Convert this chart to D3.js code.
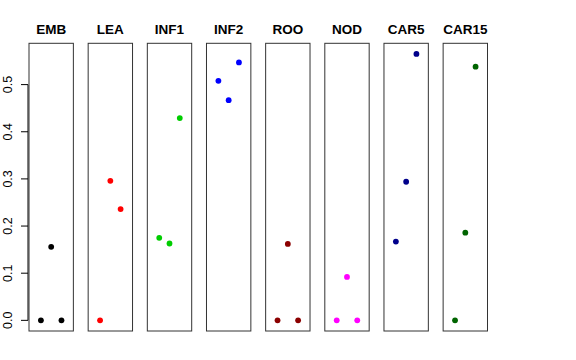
<!DOCTYPE html>
<html>
<head>
<meta charset="utf-8">
<script src="https://cdn.jsdelivr.net/npm/d3@7"></script>
<style>
  body { margin: 0; background: white; }
  svg text { font-family: "Liberation Sans", Arial, sans-serif; }
</style>
</head>
<body>
<div id="chart"></div>
<script>
// stages and the three values per stage
let stages = ["EMB", "LEA", "INF1", "INF2", "ROO", "NOD", "CAR5", "CAR15"];
let stageColors = ["black", "red", "#00cd00", "blue", "#8b0000", "magenta", "#00008b", "#006400"];
let positions = [1, 2, 3];
let values = [
    [0.000, 0.156, 0.000],
    [0.000, 0.296, 0.236],
    [0.175, 0.163, 0.429],
    [0.508, 0.467, 0.547],
    [0.000, 0.162, 0.000],
    [0.000, 0.092, 0.000],
    [0.167, 0.294, 0.565],
    [0.000, 0.186, 0.538]
];
let yTicks = [0, 0.1, 0.2, 0.3, 0.4, 0.5];

let w = 576;
let h = 360;

let svg = d3.select("#chart").append("svg")
    .attr("width", w)
    .attr("height", h);

// panels laid out side by side
let panelScale = d3.scaleBand()
    .domain(stages)
    .range([29, 487.5])
    .paddingInner(0.25)
    .paddingOuter(0);

let bw = panelScale.bandwidth();

// R style 4% extension on both axes
let yMax = d3.max(values, function(v) { return d3.max(v); });
let yPad = yMax * 0.04;
let yScale = d3.scaleLinear().domain([-yPad, yMax + yPad]).range([331, 43.3]);
let xScale = d3.scaleLinear().domain([-0.16, 4.16]).range([0, bw]);

// y axis, drawn only over the tick range
let yAxis = d3.axisLeft(yScale).tickValues(yTicks).tickSize(7).tickFormat(d3.format(".1f"));
let axisG = svg.append("g")
    .attr("transform", "translate(28,0)")
    .call(yAxis);
axisG.select(".domain")
    .attr("d", "M0," + yScale(0) + "V" + yScale(0.5))
    .attr("stroke", "black");
axisG.selectAll(".tick line").attr("stroke", "black");
axisG.selectAll(".tick text")
    .attr("transform", function(d) { return "rotate(-90)"; })
    .attr("x", function(d) { return -yScale(d); })
    .attr("y", -16)
    .attr("dy", 0)
    .attr("text-anchor", "middle")
    .style("font-size", "12.5px")
    .attr("fill", "black");
// tick text is positioned in rotated coordinates, remove the tick translate
axisG.selectAll(".tick").each(function(d) {
    let t = d3.select(this);
    t.attr("transform", null);
    t.select("line").attr("y1", yScale(d)).attr("y2", yScale(d));
});

let panels = svg.selectAll("g.panel")
    .data(stages)
    .enter()
    .append("g")
    .attr("class", "panel")
    .attr("transform", function(d) { return "translate(" + panelScale(d) + ",0)"; });

panels.append("rect")
    .attr("x", 0)
    .attr("y", yScale.range()[1])
    .attr("width", bw)
    .attr("height", yScale.range()[0] - yScale.range()[1])
    .attr("fill", "none")
    .attr("stroke", "#333")
    .attr("stroke-width", 1);

panels.append("text")
    .attr("x", bw / 2)
    .attr("y", 34)
    .attr("text-anchor", "middle")
    .style("font-size", "13.5px")
    .style("font-weight", "bold")
    .text(function(d) { return d; });

panels.each(function(stage, i) {
    d3.select(this).selectAll("circle")
        .data(values[i])
        .enter()
        .append("circle")
        .attr("cx", function(d, j) { return xScale(positions[j]); })
        .attr("cy", function(d) { return yScale(d); })
        .attr("r", 2.9)
        .attr("fill", stageColors[i]);
});
</script>
</body>
</html>
